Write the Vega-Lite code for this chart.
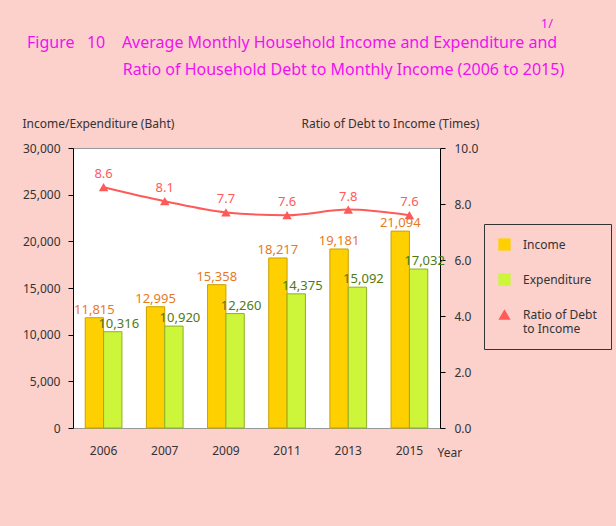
{
  "$schema": "https://vega.github.io/schema/vega-lite/v6.json",
  "width": 367,
  "height": 280,
  "autosize": "none",
  "padding": {"left": 73, "top": 148, "right": 176, "bottom": 98},
  "background": "#FCD0CB",
  "title": {
    "text": "\u200b\u00a0\u00a0\u00a0\u00a0\u00a0\u00a0\u00a0\u00a0\u00a0\u00a0\u00a0\u00a0\u00a0\u00a0\u00a0\u00a0\u00a0\u00a0\u00a0\u00a0\u00a0\u00a0\u00a0\u00a0\u00a0\u00a0\u00a0\u00a0\u00a0\u00a0\u00a0\u00a0\u00a0\u00a0\u00a0\u00a0\u00a0\u00a0\u00a0\u00a0\u00a0\u00a0\u00a0\u00a0\u00a0\u00a0\u00a0\u00a0\u00a0\u00a0\u00a0\u00a0\u00a0\u00a0\u00a0\u00a0\u00a0\u00a0\u00a0\u00a0\u00a0\u00a0\u00a0\u00a0\u00a0\u00a0\u00a0\u00a0\u00a0\u00a0\u00a0\u00a0\u00a0\u00a0\u00a0\u00a0\u00a0\u00a0\u00a0\u00a0\u00a0\u00a0\u00a0\u00a0\u00a0\u00a0\u00a0\u00a0\u00a0\u00a0\u00a0\u00a0\u00a0\u00a0\u00a0\u00a0\u00a0\u00a0\u00a0\u00a0\u00a0\u00a0\u00a0\u00a0\u00a0\u00a0\u00a0\u00a0\u00a0\u00a0\u00a0\u00a0\u00a0\u00a0\u00a0\u00a0\u00a0\u00a0\u00a0\u00a0\u00a0\u00a0\u00a0\u00a0\u00a0\u00a0\u00a0\u00a0\u00a0\u00a0\u00a0\u00a0\u00a0\u00a0\u00a0\u00a0\u00a0\u00a0\u00a0\u00a0\u00a0\u00a0\u00a0\u00a0\u00a0\u00a0\u00a0\u00a0\u00a0\u00a0\u00a0\u00a01/",
    "subtitle": ["Figure\u00a0\u00a0\u00a010\u00a0\u00a0\u00a0\u00a0Average Monthly Household Income and Expenditure and", "\u200b\u00a0\u00a0\u00a0\u00a0\u00a0\u00a0\u00a0\u00a0\u00a0\u00a0\u00a0\u00a0\u00a0\u00a0\u00a0\u00a0\u00a0\u00a0\u00a0\u00a0\u00a0\u00a0\u00a0Ratio of Household Debt to Monthly Income (2006 to 2015)"],
    "anchor": "start",
    "frame": "group",
    "dx": -46,
    "offset": 39,
    "font": "Noto Sans",
    "fontSize": 13,
    "fontWeight": "normal",
    "color": "#F010F0",
    "subtitleFont": "Noto Sans",
    "subtitleFontSize": 16,
    "subtitleColor": "#F010F0",
    "subtitleLineHeight": 27,
    "subtitlePadding": 4
  },
  "config": {
    "font": "Noto Sans",
    "view": {"fill": "white", "stroke": "#999999", "strokeWidth": 1},
    "axis": {"labelFont": "Noto Sans", "titleFont": "Noto Sans", "labelColor": "#333333", "titleColor": "#333333", "labelFontSize": 12, "titleFontSize": 12, "titleFontWeight": "normal", "grid": false}
  },
  "data": {
    "values": [
      {"year": "2006", "series": "Income", "value": 11815},
      {"year": "2007", "series": "Income", "value": 12995},
      {"year": "2009", "series": "Income", "value": 15358},
      {"year": "2011", "series": "Income", "value": 18217},
      {"year": "2013", "series": "Income", "value": 19181},
      {"year": "2015", "series": "Income", "value": 21094},
      {"year": "2006", "series": "Expenditure", "value": 10316},
      {"year": "2007", "series": "Expenditure", "value": 10920},
      {"year": "2009", "series": "Expenditure", "value": 12260},
      {"year": "2011", "series": "Expenditure", "value": 14375},
      {"year": "2013", "series": "Expenditure", "value": 15092},
      {"year": "2015", "series": "Expenditure", "value": 17032},
      {"year": "2006", "series": "Ratio of Debt to Income", "ratio": 8.6},
      {"year": "2007", "series": "Ratio of Debt to Income", "ratio": 8.1},
      {"year": "2009", "series": "Ratio of Debt to Income", "ratio": 7.7},
      {"year": "2011", "series": "Ratio of Debt to Income", "ratio": 7.6},
      {"year": "2013", "series": "Ratio of Debt to Income", "ratio": 7.8},
      {"year": "2015", "series": "Ratio of Debt to Income", "ratio": 7.6}
    ]
  },
  "encoding": {
    "x": {
      "field": "year",
      "type": "ordinal",
      "scale": {"paddingInner": 0.4, "paddingOuter": 0.2},
      "axis": {
        "title": "Year",
        "labelAngle": 0,
        "ticks": false,
        "domain": false,
        "labelPadding": 17,
        "titleAlign": "left",
        "titleBaseline": "middle",
        "titleAngle": 0,
        "titleX": 364,
        "titleY": 24
      }
    }
  },
  "layer": [
    {
      "transform": [{"filter": "datum.series != 'Ratio of Debt to Income'"}],
      "encoding": {
        "xOffset": {"field": "series", "type": "nominal", "scale": {"domain": ["Income", "Expenditure"], "paddingInner": 0}},
        "y": {
          "field": "value",
          "type": "quantitative",
          "scale": {"domain": [0, 30000]},
          "axis": {
            "orient": "left",
            "title": "Income/Expenditure (Baht)",
            "values": [0, 5000, 10000, 15000, 20000, 25000, 30000],
            "format": ",d",
            "domainColor": "#000000",
            "tickColor": "#000000",
            "tickSize": 5,
            "labelPadding": 8,
            "titleAngle": 0,
            "titleAlign": "left",
            "titleBaseline": "middle",
            "titleX": -51,
            "titleY": -25
          }
        }
      },
      "layer": [
        {
          "mark": {"type": "bar", "strokeWidth": 1},
          "encoding": {
            "color": {
              "field": "series",
              "type": "nominal",
              "scale": {"domain": ["Income", "Expenditure", "Ratio of Debt to Income"], "range": ["#FFD000", "#CDF53A", "#FF5A5A"]},
              "legend": {
                "title": null,
                "orient": "none",
                "legendX": 411,
                "legendY": 76,
                "strokeColor": "#333333",
                "padding": 14,
                "rowPadding": 22,
                "symbolSize": 150,
                "symbolStrokeWidth": 0,
                "labelOffset": 12,
                "labelFont": "Noto Sans",
                "labelFontSize": 12,
                "labelColor": "#333333",
                "labelExpr": "datum.label == 'Ratio of Debt to Income' ? ['Ratio of Debt\u00a0\u00a0\u00a0', 'to Income'] : datum.label"
              }
            },
            "stroke": {
              "field": "series",
              "type": "nominal",
              "scale": {"domain": ["Income", "Expenditure"], "range": ["#C9A000", "#8DB02A"]},
              "legend": null
            }
          }
        },
        {
          "transform": [{"filter": "datum.series == 'Income'"}],
          "mark": {"type": "text", "dy": -8, "baseline": "middle", "fontSize": 13, "color": "#E8791E"},
          "encoding": {"text": {"field": "value", "type": "quantitative", "format": ","}}
        },
        {
          "transform": [{"filter": "datum.series == 'Expenditure'"}],
          "mark": {"type": "text", "dy": -8, "dx": 6, "baseline": "middle", "fontSize": 13, "color": "#4F7A12"},
          "encoding": {"text": {"field": "value", "type": "quantitative", "format": ","}}
        }
      ]
    },
    {
      "transform": [{"filter": "datum.series == 'Ratio of Debt to Income'"}],
      "encoding": {
        "y": {
          "field": "ratio",
          "type": "quantitative",
          "scale": {"domain": [0, 10]},
          "axis": {
            "orient": "right",
            "title": "Ratio of Debt to Income (Times)",
            "values": [0, 2, 4, 6, 8, 10],
            "format": ".1f",
            "domainColor": "#000000",
            "tickColor": "#000000",
            "tickSize": 5,
            "labelPadding": 9,
            "titleAngle": 0,
            "titleAlign": "left",
            "titleBaseline": "middle",
            "titleX": -139,
            "titleY": -25
          }
        }
      },
      "layer": [
        {
          "mark": {"type": "line", "interpolate": "monotone", "strokeWidth": 2},
          "encoding": {
            "color": {"field": "series", "type": "nominal"}
          }
        },
        {
          "mark": {"type": "point", "filled": true, "size": 90, "opacity": 1},
          "encoding": {
            "color": {"field": "series", "type": "nominal"},
            "shape": {
              "field": "series",
              "type": "nominal",
              "scale": {"domain": ["Income", "Expenditure", "Ratio of Debt to Income"], "range": ["square", "square", "triangle-up"]}
            }
          }
        },
        {
          "mark": {"type": "text", "dy": -13, "baseline": "middle", "fontSize": 13, "color": "#FF5A5A"},
          "encoding": {"text": {"field": "ratio", "type": "quantitative", "format": ".1f"}}
        }
      ]
    }
  ],
  "resolve": {"scale": {"y": "independent"}}
}
